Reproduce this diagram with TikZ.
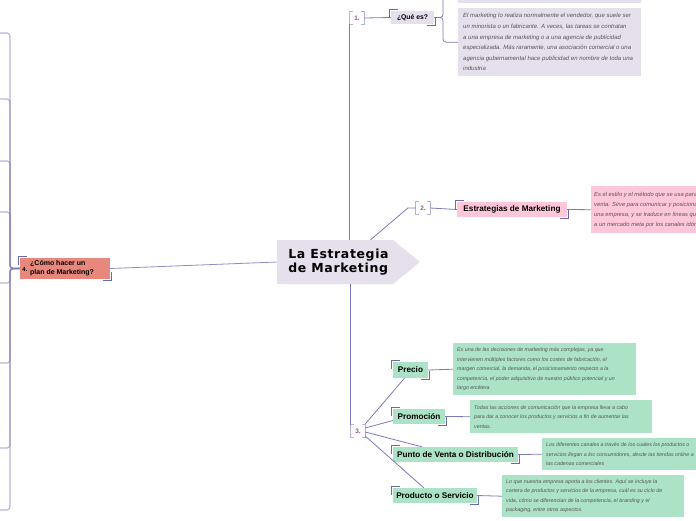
\documentclass[tikz,border=0pt]{standalone}
\usepackage{fontspec}
\setmainfont{Liberation Sans}
\newfontfamily\cenfont[LetterSpace=5]{DejaVu Sans}
\usetikzlibrary{calc}
\definecolor{lav}{HTML}{E6E0EC}
\definecolor{pinkf}{HTML}{FFC7D9}
\definecolor{greenf}{HTML}{ACE3C6}
\definecolor{salmon}{HTML}{E8877C}
\definecolor{lineC}{HTML}{7C7AB8}
\definecolor{brkC}{HTML}{6B6AA8}
\definecolor{numC}{HTML}{9A4E9A}
\definecolor{lblB}{HTML}{B4B2D6}
\definecolor{descC}{HTML}{555555}
\tikzset{
 ttl/.style={font=\fontsize{8.2}{9}\selectfont\bfseries, inner sep=0pt, text=black},
 desc/.style={font=\fontsize{5.3}{9.5}\selectfont\itshape, text=descC, align=left, inner sep=0pt},
 descL/.style={desc, font=\fontsize{6}{10.6}\selectfont\itshape},
 boxn/.style={inner sep=0pt, anchor=north west},
 brk/.style={draw=brkC, line width=1.3pt},
 conn/.style={draw=lineC, line width=0.8pt},
 leftln/.style={draw=lineC, line width=1.2pt, draw opacity=0.55, rounded corners=3pt},
 lbl/.style={font=\fontsize{6.5}{6.5}\selectfont\bfseries, text=numC, inner sep=0pt, minimum width=14pt, minimum height=12pt},
 lblb/.style={draw=lblB, line width=1pt},
}
\newcommand{\corners}[1]{%
 \draw[brk] ([shift={(-1.5,7)}]#1.north west) -- ([shift={(-1.5,-1.5)}]#1.north west) -- ([shift={(7,-1.5)}]#1.north west);
 \draw[brk] ([shift={(1.5,-7)}]#1.south east) -- ([shift={(1.5,1.5)}]#1.south east) -- ([shift={(-7,1.5)}]#1.south east);}
\newcommand{\lblbr}[1]{%
 \draw[lblb] ([xshift=3pt]#1.north west) -- (#1.north west) -- (#1.south west) -- ([xshift=3pt]#1.south west);
 \draw[lblb] ([xshift=-3pt]#1.north east) -- (#1.north east) -- (#1.south east) -- ([xshift=-3pt]#1.south east);}
\begin{document}
\begin{tikzpicture}[x=1pt,y=-1pt]
\useasboundingbox (0,0) rectangle (696,520);
\clip (0,0) rectangle (696,520);
\fill[white] (0,0) rectangle (696,520);

% central node
\fill[lav] (277,240) -- (393,240) -- (420,262) -- (393,284) -- (277,284) -- cycle;
\node[minimum width=123pt, minimum height=44pt, inner sep=0pt, align=left,
      font=\cenfont\bfseries\fontsize{12.5}{14}\selectfont] (cen) at (338.5,262) {La Estrategia\\de Marketing};

% node 4
\node[fill=salmon, minimum width=90pt, minimum height=21pt, inner sep=0pt] (n4) at (65,268.5) {};
\node[font=\fontsize{7}{9}\selectfont\bfseries, align=left, inner sep=0pt, anchor=west] (n4t) at (30,268.5) {¿Cómo hacer un\\plan de Marketing?};
\node[font=\fontsize{6}{6}\selectfont\bfseries, inner sep=0pt] (n4n) at (25,269) {4.};
\corners{n4}

\foreach \yy [count=\i] in {33,99,161,212,283,363,448,510} {
  \coordinate (c\i) at (0,\yy);
  \draw[leftln] (n4.west) -- (10,268.5) -- (10,\yy) -- (c\i);
}
\draw[conn, draw=lineC!85] (n4.east) -- (cen.west);

% branch 1
\node[lbl] (l1) at (357,18) {1.};
\lblbr{l1}
\node[ttl, fill=lav, minimum width=43pt, minimum height=13pt, font=\fontsize{6.8}{8}\selectfont\bfseries] (q) at (412.5,17.5) {¿Qué es?};
\corners{q}
\node[boxn, fill=lav, minimum width=183pt, minimum height=33pt] (d0) at (458,-30) {};
\node[boxn, fill=lav, minimum width=183pt, minimum height=68pt] (d1) at (458,8) {};
\node[descL, anchor=west] (d1t) at ([xshift=5pt]d1.west) {El marketing lo realiza normalmente el vendedor, que suele ser\\un minorista o un fabricante. A veces, las tareas se contratan\\a una empresa de marketing o a una agencia de publicidad\\especializada. Más raramente, una asociación comercial o una\\agencia gubernamental hace publicidad en nombre de toda una\\industria};
\draw[conn] (cen.north -| l1.south west) -- (l1.south west);
\draw[conn] (l1.east) -- (q.west);
\draw[conn, rounded corners=3pt] (q.east) -- ([xshift=-15pt]d1.west |- q.east) -- ([xshift=-15pt]d1.west) -- (d1.west);
\draw[conn, rounded corners=3pt] (q.east) -- ([xshift=-15pt]d0.west |- q.east) -- ([xshift=-15pt]d0.west) -- (d0.west);

% branch 2
\node[lbl] (l2) at (423,208) {2.};
\lblbr{l2}
\node[ttl, fill=pinkf, minimum width=110pt, minimum height=15pt] (est) at (512,209.5) {Estrategias de Marketing};
\corners{est}
\node[boxn, fill=pinkf, minimum width=150pt, minimum height=47pt] (pk) at (591,186) {};
\node[descL, anchor=west, font=\fontsize{5.8}{10}\selectfont\itshape] (pkt) at ([xshift=3pt]pk.west) {Es el estilo y el método que se usa para\\venta. Sirve para comunicar y posicionar\\una empresa, y se traduce en líneas que\\a un mercado meta por los canales idóneos};
\draw[conn] ([xshift=32pt]cen.north) -- ([xshift=-8pt]l2.west) -- (l2.west);
\draw[conn] (l2.east) -- (est.west);
\draw[conn] (est.east) -- (pk.west);

% branch 3
\node[lbl] (l3) at (358,431) {3.};
\lblbr{l3}
\draw[conn] (cen.south -| l3.north west) -- (l3.north west);

\node[ttl, fill=greenf, minimum width=35pt, minimum height=16pt] (pr) at (410.5,370) {Precio};
\node[ttl, fill=greenf, minimum width=52pt, minimum height=15pt] (pm) at (419,416.5) {Promoción};
\node[ttl, fill=greenf, minimum width=125pt, minimum height=15pt] (pv) at (455.5,454.5) {Punto de Venta o Distribución};
\node[ttl, fill=greenf, minimum width=84pt, minimum height=15pt] (pd) at (435,495.5) {Producto o Servicio};
\corners{pr}\corners{pm}\corners{pv}\corners{pd}

\node[boxn, fill=greenf, minimum width=183pt, minimum height=52pt] (prb) at (453,343) {};
\node[desc, anchor=west] (prt) at ([xshift=4pt]prb.west) {Es una de las decisiones de marketing más complejas, ya que\\intervienen múltiples factores como los costes de fabricación, el\\margen comercial, la demanda, el posicionamiento respecto a la\\competencia, el poder adquisitivo de nuestro público potencial y un\\largo etcétera};
\node[boxn, fill=greenf, minimum width=182pt, minimum height=33pt] (pmb) at (470,400) {};
\node[desc, anchor=west] (pmt) at ([xshift=4pt]pmb.west) {Todas las acciones de comunicación que la empresa lleva a cabo\\para dar a conocer los productos y servicios a fin de aumentar las\\ventas.};
\node[boxn, fill=greenf, minimum width=183pt, minimum height=32pt] (pvb) at (542,438) {};
\node[desc, anchor=west] (pvt) at ([xshift=4pt]pvb.west) {Los diferentes canales a través de los cuales los productos o\\servicios llegan a los consumidores, desde las tiendas online a\\las cadenas comerciales};
\node[boxn, fill=greenf, minimum width=182pt, minimum height=42pt] (pdb) at (502,475) {};
\node[desc, anchor=west] (pdt) at ([xshift=4pt]pdb.west) {Lo que nuestra empresa aporta a los clientes. Aquí se incluye la\\cartera de productos y servicios de la empresa, cuál es su ciclo de\\vida, cómo se diferencian de la competencia, el branding y el\\packaging, entre otros aspectos.};

\draw[conn] ([yshift=7pt]l3.east) -- ([xshift=-6pt]pr.south);
\draw[conn] ([yshift=3pt]l3.east) -- ([yshift=-4pt]pm.west);
\draw[conn] ([yshift=-1pt]l3.east) -- ([xshift=29pt]pv.north west);
\draw[conn] ([yshift=-5pt]l3.east) -- ([xshift=31pt]pd.north west);

\draw[conn] (pr.east) -- (prb.west);
\draw[conn] (pm.east) -- (pmb.west);
\draw[conn] (pv.east) -- (pvb.west);
\draw[conn] (pd.east) -- (pdb.west);
\end{tikzpicture}
\end{document}
